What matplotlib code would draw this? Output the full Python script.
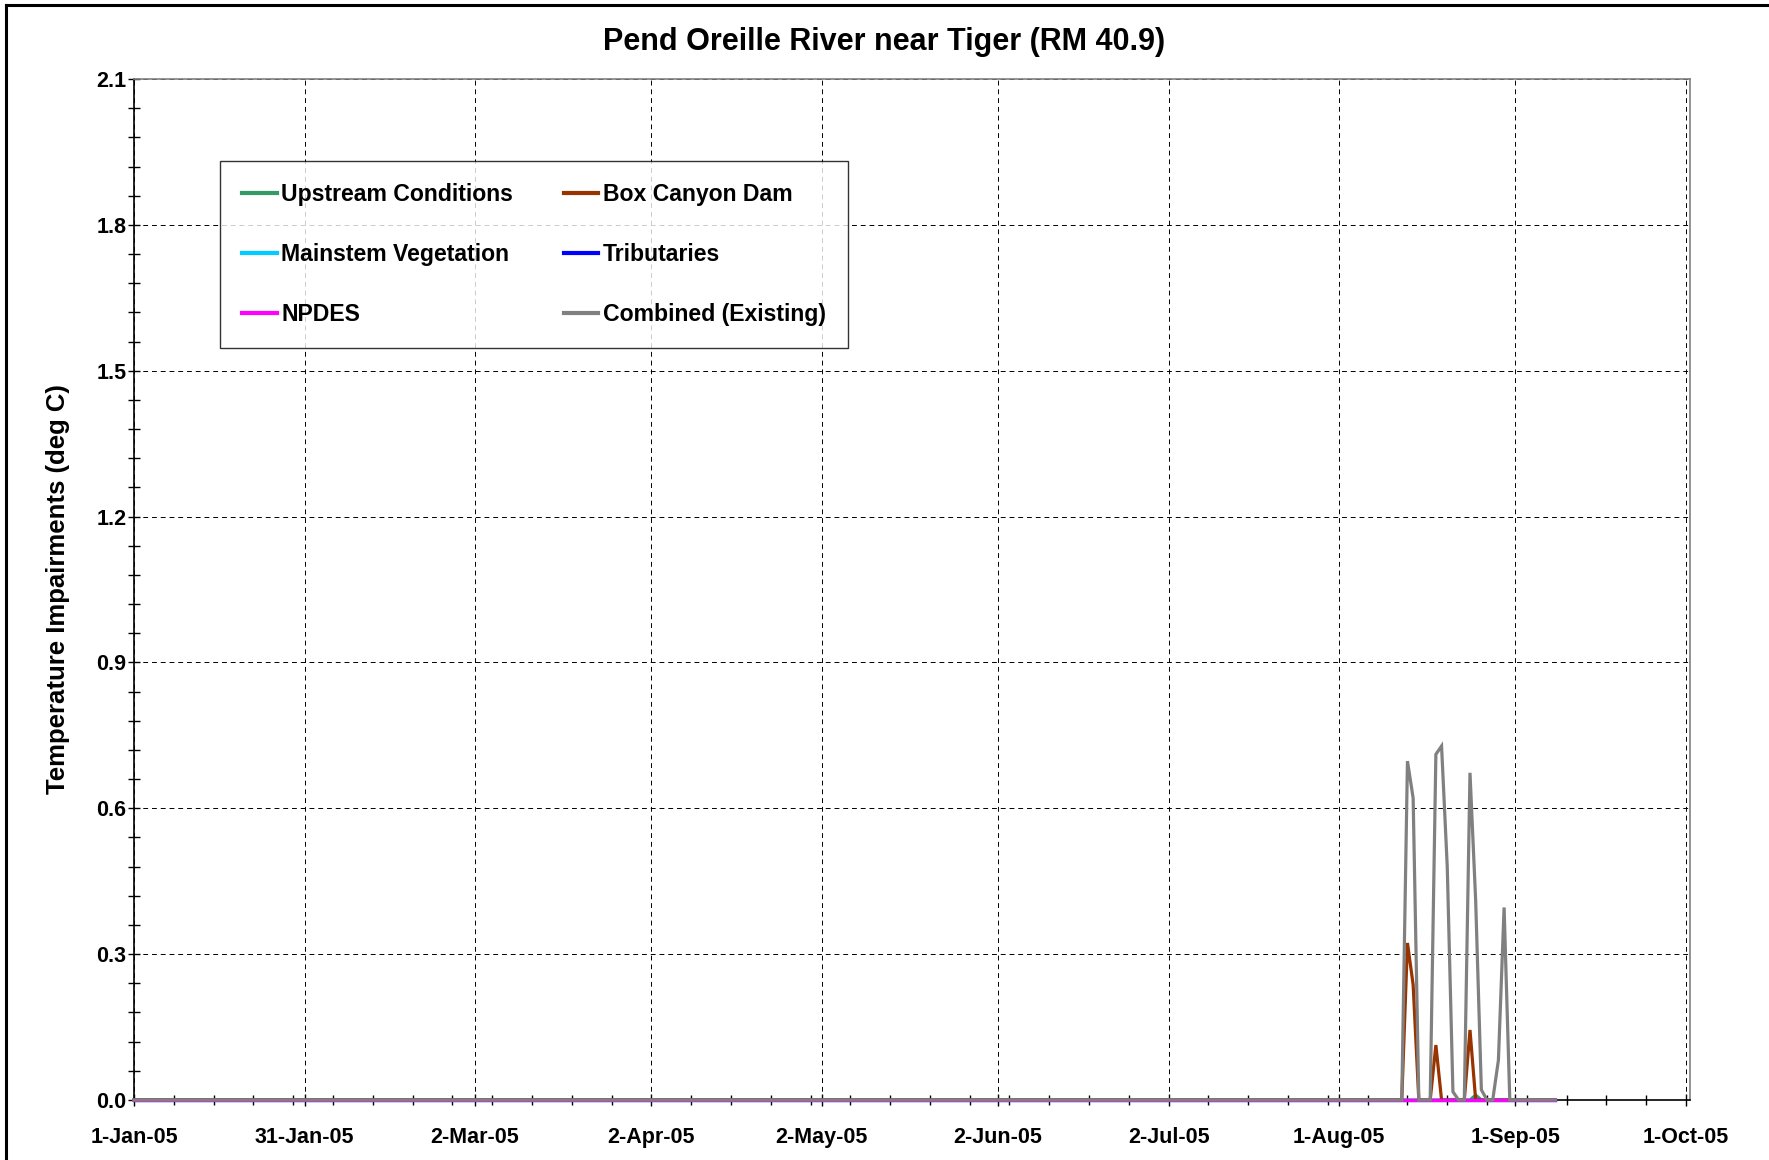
import matplotlib
matplotlib.use("Agg")
import matplotlib.pyplot as plt
import matplotlib.dates as mdates
import numpy as np
import pandas as pd
from matplotlib.lines import Line2D

plt.rcParams['font.family'] = ['Liberation Sans', 'DejaVu Sans']
plt.rcParams['font.weight'] = 'bold'

# daily record, 1-Jan-05 .. 8-Sep-05
dates = pd.date_range('2005-01-01', '2005-09-08', freq='D')

# the only non-zero stretch: 12-Aug-05 .. 31-Aug-05
window_start = pd.Timestamp('2005-08-12')
upstream_win = [0, 0, 0, 0, 0, 0, 0, 0, 0, 0, 0, 0, 0, 0.01, 0, 0, 0, 0, 0, 0]
boxcanyon_win = [0, 0.323, 0.237, 0, 0, 0, 0.113, 0, 0, 0, 0, 0, 0.144, 0, 0, 0, 0, 0, 0, 0]
mainstem_win = [0] * 20
tribs_win = [0] * 20
npdes_win = [0] * 20
combined_win = [0, 0.697, 0.621, 0, 0, 0, 0.711, 0.728, 0.48, 0.017, 0, 0,
                0.673, 0.41, 0.021, 0, 0, 0.082, 0.396, 0]

tick_labels = ['1-Jan-05', '31-Jan-05', '2-Mar-05', '2-Apr-05', '2-May-05', '2-Jun-05',
               '2-Jul-05', '1-Aug-05', '1-Sep-05', '1-Oct-05']


def full_series(win):
    s = pd.Series(0.0, index=dates)
    idx = pd.date_range(window_start, periods=len(win), freq='D')
    s.loc[idx] = win
    return s


series = [
    ('Upstream Conditions', upstream_win, '#339966'),
    ('Box Canyon Dam', boxcanyon_win, '#993300'),
    ('Mainstem Vegetation', mainstem_win, '#00CCFF'),
    ('Tributaries', tribs_win, '#0000FF'),
    ('NPDES', npdes_win, '#FF00FF'),
    ('Combined (Existing)', combined_win, '#808080'),
]

fig = plt.figure(figsize=(17.69, 11.60), dpi=100)
ax = fig.add_axes([134 / 1769, 1 - 1100 / 1160, 1556 / 1769, 1021 / 1160])

for name, win, col in series:
    s = full_series(win)
    ax.plot(s.index, s.values, color=col, lw=2.3, solid_joinstyle='miter',
            zorder=3, clip_on=False)

x0 = mdates.date2num(pd.Timestamp('2005-01-01'))
ax.set_xlim(x0, x0 + 273.7)
ax.set_ylim(0, 2.1)

ax.set_xticks([mdates.date2num(pd.to_datetime(t, format='%d-%b-%y')) for t in tick_labels])
ax.set_xticklabels(tick_labels)
ax.set_xticks(x0 + np.arange(0, 274, 7), minor=True)
ax.set_yticks(np.arange(0, 2.11, 0.3))
ax.set_yticklabels(['%.1f' % v for v in np.arange(0, 2.11, 0.3)])
ax.set_yticks(np.arange(0, 2.11, 0.06), minor=True)

ax.tick_params(axis='both', which='both', direction='inout', length=9, width=1, color='black')
ax.tick_params(axis='x', which='major', labelsize=15.5, pad=15)
ax.tick_params(axis='y', which='major', labelsize=15.5, pad=1)
ax.tick_params(axis='x', which='minor', length=7)

ax.grid(True, which='major', color='black', linestyle=(0, (5, 4)), linewidth=0.7)

for side in ['left', 'bottom']:
    ax.spines[side].set_color('black')
    ax.spines[side].set_linewidth(1.2)
for side in ['top', 'right']:
    ax.spines[side].set_color('#808080')
    ax.spines[side].set_linewidth(1.2)

ax.set_ylabel('Temperature Impairments (deg C)', fontsize=18.5, fontweight='bold', labelpad=19)
fig.text(0.5, 1 - 42 / 1160, 'Pend Oreille River near Tiger (RM 40.9)', ha='center', va='center',
         fontsize=22, fontweight='bold')

# legend, row-wise: left column then right column
order = [0, 2, 4, 1, 3, 5]
handles = [Line2D([], [], color=series[i][2], lw=3) for i in order]
labels = [series[i][0] for i in order]
leg = ax.legend(handles, labels, ncol=2, loc='upper left', bbox_to_anchor=(0.0553, 0.9197),
                borderaxespad=0, fontsize=16.6, frameon=True, fancybox=False, shadow=False,
                handlelength=1.5, handletextpad=0.2, columnspacing=2.2, labelspacing=1.6,
                borderpad=0.95)
leg.get_frame().set_edgecolor('black')
leg.get_frame().set_linewidth(1.0)
for t in leg.get_texts():
    t.set_fontweight('bold')

# outer frame (top and left edges visible in the original)
fig.add_artist(Line2D([6 / 1769, 6 / 1769], [0, 1 - 5 / 1160], transform=fig.transFigure, color='black', lw=2.2))
fig.add_artist(Line2D([6 / 1769, 1], [1 - 5 / 1160, 1 - 5 / 1160], transform=fig.transFigure, color='black', lw=2.2))

fig.savefig('out.png', dpi=100)
